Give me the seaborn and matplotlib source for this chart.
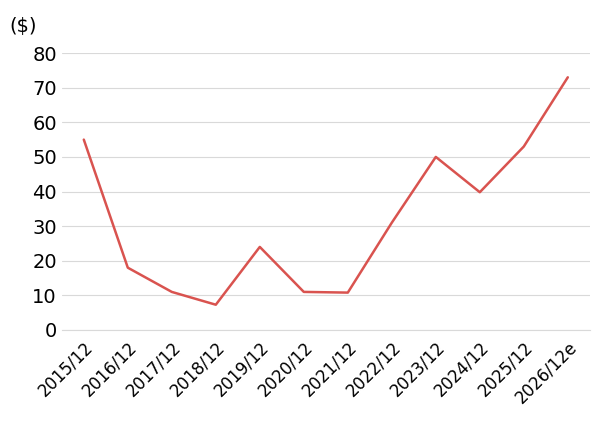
import matplotlib
matplotlib.use("Agg")
import matplotlib.pyplot as plt
import seaborn as sns
import pandas as pd

categories = ["2015/12","2016/12","2017/12","2018/12","2019/12","2020/12","2021/12","2022/12","2023/12","2024/12","2025/12","2026/12e"]
values = [55, 18, 11, 7.3, 24, 11, 10.8, 31, 50, 39.8, 53, 73]
yticks = [0, 10, 20, 30, 40, 50, 60, 70, 80]

sns.set_style("white")
plt.rcParams['font.family'] = ['DejaVu Sans']
df = pd.DataFrame({"x": range(len(categories)), "y": values})

fig = plt.figure(figsize=(6, 4.28), dpi=100)
ax = fig.add_axes([0.103, 0.229, 0.88, 0.647])
sns.lineplot(data=df, x="x", y="y", ax=ax, color="#d9534f", linewidth=1.8)
ax.set_ylim(0, 80)
ax.set_xlim(-0.5, len(categories) - 0.5)
ax.set_yticks(yticks)
ax.set_yticklabels([str(v) for v in yticks], fontsize=14, color="black")
ax.yaxis.grid(True, color="#d9d9d9", linewidth=0.8)
ax.set_xticks(range(len(categories)))
ax.set_xticklabels(categories, rotation=45, ha="right", rotation_mode="anchor", fontsize=12, color="black")
ax.set_xticks([i - 0.5 for i in range(len(categories) + 1)], minor=True)
ax.tick_params(axis="x", which="major", length=0, pad=6)
ax.tick_params(axis="x", which="minor", length=5, color="#d9d9d9", direction="out")
ax.tick_params(axis="y", length=0)
for s in ["top", "right", "left"]:
    ax.spines[s].set_visible(False)
ax.spines["bottom"].set_color("#d9d9d9")
ax.set_xlabel("")
ax.set_ylabel("")
fig.text(0.015, 0.925, "($)", fontsize=14, color="black")
fig.savefig("out.png", dpi=100)
